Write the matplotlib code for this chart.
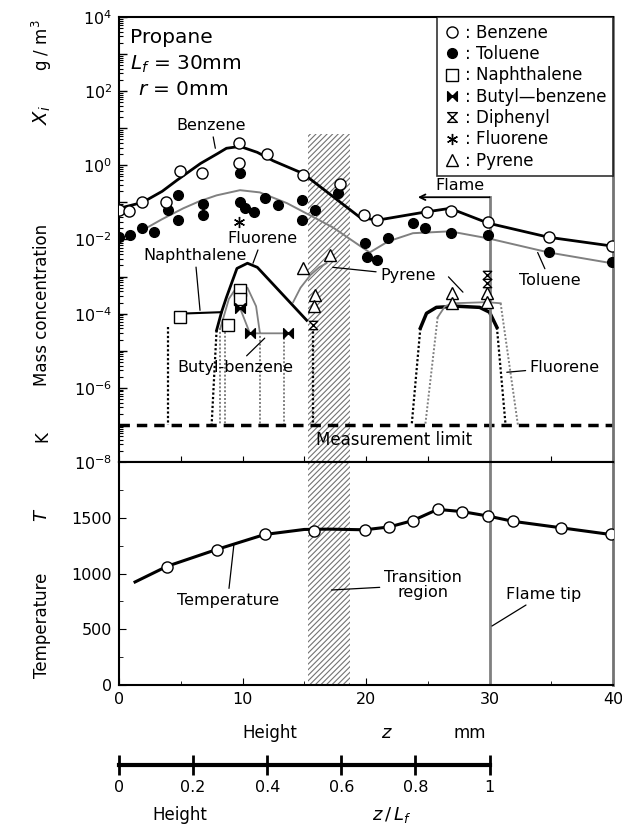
import numpy as np
import matplotlib
matplotlib.use("Agg")
import matplotlib.pyplot as plt
from matplotlib.path import Path
from matplotlib.patches import Rectangle
from matplotlib.lines import Line2D
from matplotlib.ticker import FixedLocator, MultipleLocator, NullFormatter, FuncFormatter

plt.rcParams['font.family'] = ['DejaVu Sans']
plt.rcParams['hatch.linewidth'] = 0.8

# ---- data (height z in mm, concentration as log10 exponent) ----
benz_z = [0, 0.8, 1.9, 3.8, 4.9, 6.7, 9.7, 9.7, 12.0, 14.9, 17.9, 19.8, 20.9, 24.9, 26.9, 29.9, 34.8, 39.9]
benz_e = [-1.21, -1.24, -1.0, -1.0, -0.16, -0.22, 0.59, 0.05, 0.30, -0.27, -0.49, -1.35, -1.48, -1.27, -1.24, -1.54, -1.94, -2.18]
benz_curve_z = [0, 1.9, 3.5, 4.7, 6.6, 8.0, 8.7, 9.8, 11.2, 12.5, 14.9, 19.5, 20.9, 24.6, 26.8, 29.9, 34.8, 40]
benz_curve_e = [-1.16, -1.0, -0.7, -0.40, 0.05, 0.32, 0.46, 0.51, 0.35, 0.12, -0.22, -1.40, -1.48, -1.27, -1.16, -1.56, -1.94, -2.18]

tol_z = [0, 0.9, 1.9, 2.8, 4.0, 4.8, 4.8, 6.8, 6.8, 9.8, 9.8, 10.2, 10.9, 11.8, 12.9, 14.8, 14.8, 15.9,
         17.7, 19.9, 20.1, 20.9, 21.8, 23.8, 24.8, 26.9, 29.9, 34.8, 39.9]
tol_e = [-1.94, -1.89, -1.70, -1.81, -1.21, -0.81, -1.48, -1.05, -1.35, -0.22, -1.0, -1.16, -1.27, -0.89, -1.08, -0.94, -1.48, -1.21,
         -0.75, -2.10, -2.48, -2.56, -1.97, -1.56, -1.70, -1.83, -1.89, -2.35, -2.61]
tol_curve_z = [1.9, 3.5, 5.2, 6.5, 7.9, 9.8, 11.4, 13.6, 17.3, 20.3, 21.8, 23.8, 26.8, 29.9, 34.8, 39.9]
tol_curve_e = [-1.75, -1.45, -1.16, -0.97, -0.81, -0.67, -0.73, -1.02, -1.67, -2.35, -2.05, -1.83, -1.78, -1.97, -2.35, -2.64]

naph_z = [4.9, 8.8, 9.8, 9.8]
naph_e = [-4.1, -4.3, -3.37, -3.6]
naph_line_z = [4.9, 8.3]
naph_line_e = [-4.0, -3.96]
naph_curve_z = [8.2, 8.9, 9.6, 10.4, 11.1, 11.4]
naph_curve_e = [-4.4, -3.6, -3.25, -3.3, -3.8, -4.5]

butyl_z = [9.8, 10.6, 13.7]
butyl_e = [-3.85, -4.53, -4.53]

fluor_pts_z = [9.7]
fluor_pts_e = [-1.54]
fluor1_z = [7.9, 8.3, 8.7, 9.55, 10.4, 11.2, 15.2]
fluor1_e = [-4.45, -3.96, -3.56, -2.78, -2.64, -2.75, -4.18]
fluor2_z = [24.4, 24.9, 25.7, 27.4, 29.2, 30.0, 30.6]
fluor2_e = [-4.39, -3.99, -3.83, -3.80, -3.83, -3.96, -4.37]

pyr_z = [14.9, 17.1, 15.9, 15.8, 27.0, 27.0, 29.8, 29.8]
pyr_e = [-2.78, -2.43, -3.5, -3.8, -3.45, -3.72, -3.45, -3.69]
pyr1_z = [14.1, 14.7, 15.5, 16.2, 16.8]
pyr1_e = [-3.69, -3.3, -2.96, -2.75, -2.64]
pyr2_z = [25.8, 26.4, 27.0, 29.8, 30.9]
pyr2_e = [-4.1, -3.8, -3.72, -3.69, -3.72]

diph_z = [29.8, 29.8, 15.7]
diph_e = [-2.96, -3.18, -4.3]

# dotted drops to the measurement limit: (z_top, e_top, z_bottom)
drops_black = [(4.0, -4.35, 4.0), (7.9, -4.45, 7.5), (15.7, -4.35, 15.7), (24.4, -4.39, 23.7), (30.6, -4.37, 31.3)]
drops_gray = [(8.2, -4.4, 8.2), (8.6, -4.4, 8.6), (11.4, -4.5, 11.4), (13.4, -4.55, 13.4),
              (25.8, -4.1, 24.8), (30.9, -3.72, 32.3)]

temp_z = [3.9, 7.9, 11.8, 15.8, 19.9, 21.9, 23.8, 25.8, 27.8, 29.9, 31.9, 35.8, 39.8]
temp_T = [1061, 1213, 1355, 1380, 1386, 1416, 1471, 1576, 1555, 1516, 1471, 1410, 1355]
temp_curve_z = [1.3, 3.9, 7.9, 11.8, 15.0, 17.0, 19.9, 21.9, 23.8, 25.8, 27.8, 29.9, 31.9, 35.8, 39.8]
temp_curve_T = [924, 1065, 1215, 1350, 1395, 1398, 1392, 1418, 1475, 1575, 1555, 1515, 1468, 1410, 1350]

zlf_ticks = [0, 6, 12, 18, 24, 30]
zlf_labels = ['0', '0.2', '0.4', '0.6', '0.8', '1']

def p(e):
    return 10.0 ** np.asarray(e)

# ---- markers ----
bowtie = Path([(-1, 1), (0, 0), (-1, -1), (-1, 1), (1, 1), (0, 0), (1, -1), (1, 1)],
              [Path.MOVETO, Path.LINETO, Path.LINETO, Path.CLOSEPOLY,
               Path.MOVETO, Path.LINETO, Path.LINETO, Path.CLOSEPOLY])
hourglass = Path([(-1, 1), (1, 1), (-1, -1), (1, -1), (-1, 1)],
                 [Path.MOVETO, Path.LINETO, Path.LINETO, Path.LINETO, Path.CLOSEPOLY])

W, H = 622, 835
fig = plt.figure(figsize=(W / 100, H / 100), dpi=100)
L, R = 119, 613
ax1 = fig.add_axes([L / W, 1 - 462 / H, (R - L) / W, (462 - 17) / H])
ax2 = fig.add_axes([L / W, 1 - 685 / H, (R - L) / W, (685 - 462) / H])
ax3 = fig.add_axes([L / W, 1 - 775 / H, (R - L) / W, 20 / H])

gray = '0.5'

# ---------- top panel ----------
ax1.set_yscale('log')
ax1.set_xlim(0, 40)
ax1.set_ylim(1e-8, 1e4)

ax1.add_patch(Rectangle((15.3, 1e-8), 3.4, 10 ** 0.85, hatch='//////', fill=False,
                        edgecolor='0.45', linewidth=0))

ax1.plot(benz_curve_z, p(benz_curve_e), color='k', lw=2.0)
ax1.plot(tol_curve_z, p(tol_curve_e), color=gray, lw=1.4)
ax1.plot(naph_line_z, p(naph_line_e), color='k', lw=1.5)
ax1.plot(naph_curve_z, p(naph_curve_e), color=gray, lw=1.3)
ax1.plot(butyl_z, p(butyl_e), color=gray, lw=1.3)
ax1.plot(fluor1_z, p(fluor1_e), color='k', lw=2.0)
ax1.plot(fluor2_z, p(fluor2_e), color='k', lw=2.5)
ax1.plot(pyr1_z, p(pyr1_e), color=gray, lw=1.3)
ax1.plot(pyr2_z, p(pyr2_e), color=gray, lw=1.3)

for z0, e0, z1 in drops_black:
    ax1.plot([z0, z1], [10 ** e0, 1e-7], color='k', lw=1.6, ls=(0, (1, 1)))
for z0, e0, z1 in drops_gray:
    ax1.plot([z0, z1], [10 ** e0, 1e-7], color=gray, lw=1.4, ls=(0, (1, 1)))

ax1.axhline(1e-7, color='k', lw=2.5, ls=(0, (3, 2)))

ms = 8
ax1.plot(tol_z, p(tol_e), 'o', color='k', ms=ms - 1, zorder=4)
ax1.plot(benz_z, p(benz_e), 'o', mfc='white', mec='k', mew=1.0, ms=ms, zorder=5)
ax1.plot(naph_z, p(naph_e), 's', mfc='white', mec='k', mew=1.0, ms=ms, zorder=5)
ax1.plot(butyl_z, p(butyl_e), marker=bowtie, ls='none', color='k', ms=7, zorder=5)
ax1.plot(diph_z, p(diph_e), marker=hourglass, ls='none', mfc='white', mec='k', mew=1.0, ms=6, zorder=5)
ax1.plot(fluor_pts_z, p(fluor_pts_e), marker=(6, 2, 0), ls='none', color='k', ms=8, mew=1.0, zorder=5)
ax1.plot(pyr_z, p(pyr_e), '^', mfc='white', mec='k', mew=1.0, ms=ms, zorder=5)

# flame tip line and flame arrow
ax1.plot([30, 30], [1e-8, 10 ** -0.86], color=gray, lw=2)
ax1.annotate('', xy=(24.2, 10 ** -0.86), xytext=(30, 10 ** -0.86),
             arrowprops=dict(arrowstyle='->', lw=1.3, color='k', shrinkA=0, shrinkB=0))
ax1.text(27.6, 10 ** -0.54, 'Flame', ha='center', va='center', fontsize=11.5)

lbl = dict(fontsize=11.5, ha='center', va='center')
lead = dict(arrowstyle='-', lw=0.9, color='k', shrinkA=1, shrinkB=0)
ax1.annotate('Benzene', xy=(7.8, 10 ** 0.46), xytext=(7.45, 10 ** 1.08), arrowprops=lead, **lbl)
ax1.annotate('Fluorene', xy=(10.85, 10 ** -2.64), xytext=(11.6, 10 ** -1.97), arrowprops=lead, **lbl)
ax1.annotate('Naphthalene', xy=(6.56, 10 ** -3.91), xytext=(6.15, 10 ** -2.43), arrowprops=lead, **lbl)
ax1.annotate('Butyl-benzene', xy=(11.8, 10 ** -4.66), xytext=(9.4, 10 ** -5.44), arrowprops=lead, **lbl)
ax1.annotate('Pyrene', xy=(17.3, 10 ** -2.75), xytext=(23.4, 10 ** -2.96), arrowprops=lead, **lbl)
ax1.annotate('', xy=(27.85, 10 ** -3.42), xytext=(26.6, 10 ** -2.98), arrowprops=lead)
ax1.annotate('Toluene', xy=(33.9, 10 ** -2.35), xytext=(34.9, 10 ** -3.1), arrowprops=lead, **lbl)
ax1.annotate('Fluorene', xy=(31.4, 10 ** -5.58), xytext=(36.1, 10 ** -5.44), arrowprops=lead, **lbl)
ax1.text(22.3, 10 ** -7.42, 'Measurement limit', fontsize=12, ha='center', va='center')

ax1.text(0.9, 10 ** 3.45, 'Propane', fontsize=14.5, ha='left', va='center')
ax1.text(0.9, 10 ** 2.72, r'$L_f$ = 30mm', fontsize=14.5, ha='left', va='center')
ax1.text(1.5, 10 ** 2.05, r'$r$ = 0mm', fontsize=14.5, ha='left', va='center')

handles = [
    Line2D([], [], ls='none', marker='o', mfc='white', mec='k', ms=8),
    Line2D([], [], ls='none', marker='o', color='k', ms=7),
    Line2D([], [], ls='none', marker='s', mfc='white', mec='k', ms=8),
    Line2D([], [], ls='none', marker=bowtie, color='k', ms=7),
    Line2D([], [], ls='none', marker=hourglass, mfc='white', mec='k', ms=7),
    Line2D([], [], ls='none', marker=(6, 2, 0), color='k', ms=8),
    Line2D([], [], ls='none', marker='^', mfc='white', mec='k', ms=8),
]
names = [': Benzene', ': Toluene', ': Naphthalene', ': Butyl\u2014benzene', ': Diphenyl', ': Fluorene', ': Pyrene']
leg = ax1.legend(handles, names, loc='upper right', bbox_to_anchor=(1, 1), borderaxespad=0,
                 fontsize=12, frameon=True, fancybox=False, edgecolor='k', handlelength=1.0,
                 handletextpad=0.3, labelspacing=0.2, borderpad=0.4)
leg.get_frame().set_linewidth(1.2)

ax1.yaxis.set_major_locator(FixedLocator([10.0 ** k for k in range(-8, 5)]))
ax1.yaxis.set_major_formatter(FuncFormatter(
    lambda v, pos: (r'$10^{%d}$' % round(np.log10(v))) if round(np.log10(v)) % 2 == 0 else ''))
ax1.yaxis.set_minor_locator(matplotlib.ticker.LogLocator(base=10, subs=np.arange(2, 10), numticks=30))
ax1.yaxis.set_minor_formatter(NullFormatter())
ax1.xaxis.set_major_locator(MultipleLocator(5))
ax1.tick_params(axis='x', which='both', direction='in', labelbottom=False, length=4, top=False)
ax1.tick_params(axis='y', which='major', direction='in', length=6, width=1.0, labelsize=11.5, pad=5)
ax1.tick_params(axis='y', which='minor', direction='in', length=3, width=0.8)
for s in ['left', 'top', 'bottom']:
    ax1.spines[s].set_linewidth(1.5)
ax1.spines['right'].set_color('0.45')
ax1.spines['right'].set_linewidth(2)

# ---------- bottom panel ----------
ax2.set_xlim(0, 40)
ax2.set_ylim(0, 2000)
ax2.add_patch(Rectangle((15.3, 0), 3.4, 2000, hatch='//////', fill=False, edgecolor='0.45', linewidth=0))
ax2.axvline(30, color=gray, lw=2)
ax2.plot(temp_curve_z, temp_curve_T, color='k', lw=2.2)
ax2.plot(temp_z, temp_T, 'o', mfc='white', mec='k', mew=1.0, ms=ms, zorder=5)

ax2.annotate('Temperature', xy=(9.3, 1256), xytext=(8.8, 762), arrowprops=lead, **lbl)
ax2.annotate('Transition\nregion', xy=(17.2, 852), xytext=(24.6, 897), arrowprops=lead,
             fontsize=11.5, ha='center', va='center', linespacing=1.0)
ax2.annotate('Flame tip', xy=(30.2, 529), xytext=(34.4, 816), arrowprops=lead, **lbl)

ax2.xaxis.set_major_locator(MultipleLocator(10))
ax2.xaxis.set_minor_locator(MultipleLocator(5))
ax2.yaxis.set_major_locator(FixedLocator([0, 500, 1000, 1500, 2000]))
ax2.yaxis.set_major_formatter(FuncFormatter(lambda v, pos: '' if v >= 2000 else '%d' % v))
ax2.yaxis.set_minor_locator(MultipleLocator(250))
ax2.tick_params(which='both', direction='in', labelsize=11.5, top=False)
ax2.tick_params(which='major', length=5)
ax2.tick_params(which='minor', length=3)
ax2.tick_params(axis='x', pad=5)
ax2.tick_params(axis='y', pad=5)
for s in ['left', 'top', 'bottom']:
    ax2.spines[s].set_linewidth(1.5)
ax2.spines['right'].set_color('0.45')
ax2.spines['right'].set_linewidth(2)

# ---------- z / L_f scale ----------
ax3.set_xlim(0, 40)
ax3.set_ylim(-1, 1)
ax3.patch.set_visible(False)
for s in ['left', 'right', 'top']:
    ax3.spines[s].set_visible(False)
ax3.spines['bottom'].set_position(('data', 0))
ax3.spines['bottom'].set_bounds(0, 30)
ax3.spines['bottom'].set_linewidth(3)
ax3.set_yticks([])
ax3.set_xticks(zlf_ticks)
ax3.set_xticklabels(zlf_labels)
ax3.tick_params(axis='x', direction='inout', length=15, width=2, labelsize=11.5, pad=3)

# ---------- axis titles ----------
fs = 12
fig.text(270 / W, 1 - 733 / H, 'Height', fontsize=fs, ha='center', va='center')
fig.text(387 / W, 1 - 733 / H, '$z$', fontsize=fs + 1, ha='center', va='center')
fig.text(470 / W, 1 - 733 / H, 'mm', fontsize=fs, ha='center', va='center')
fig.text(180 / W, 1 - 815 / H, 'Height', fontsize=fs, ha='center', va='center')
fig.text(392 / W, 1 - 815 / H, r'$z\,/\,L_f$', fontsize=fs + 1, ha='center', va='center')

yl = dict(fontsize=fs, ha='center', va='center', rotation=90)
fig.text(42 / W, 1 - 305 / H, 'Mass concentration', **yl)
fig.text(42 / W, 1 - 115 / H, '$X_i$', fontsize=fs + 2, ha='center', va='center', rotation=90)
fig.text(42 / W, 1 - 45 / H, 'g / m$^3$', **yl)
fig.text(42 / W, 1 - 437 / H, 'K', **yl)
fig.text(42 / W, 1 - 515 / H, '$T$', fontsize=fs + 1, ha='center', va='center', rotation=90)
fig.text(42 / W, 1 - 625 / H, 'Temperature', **yl)

fig.savefig('out.png', dpi=100)
